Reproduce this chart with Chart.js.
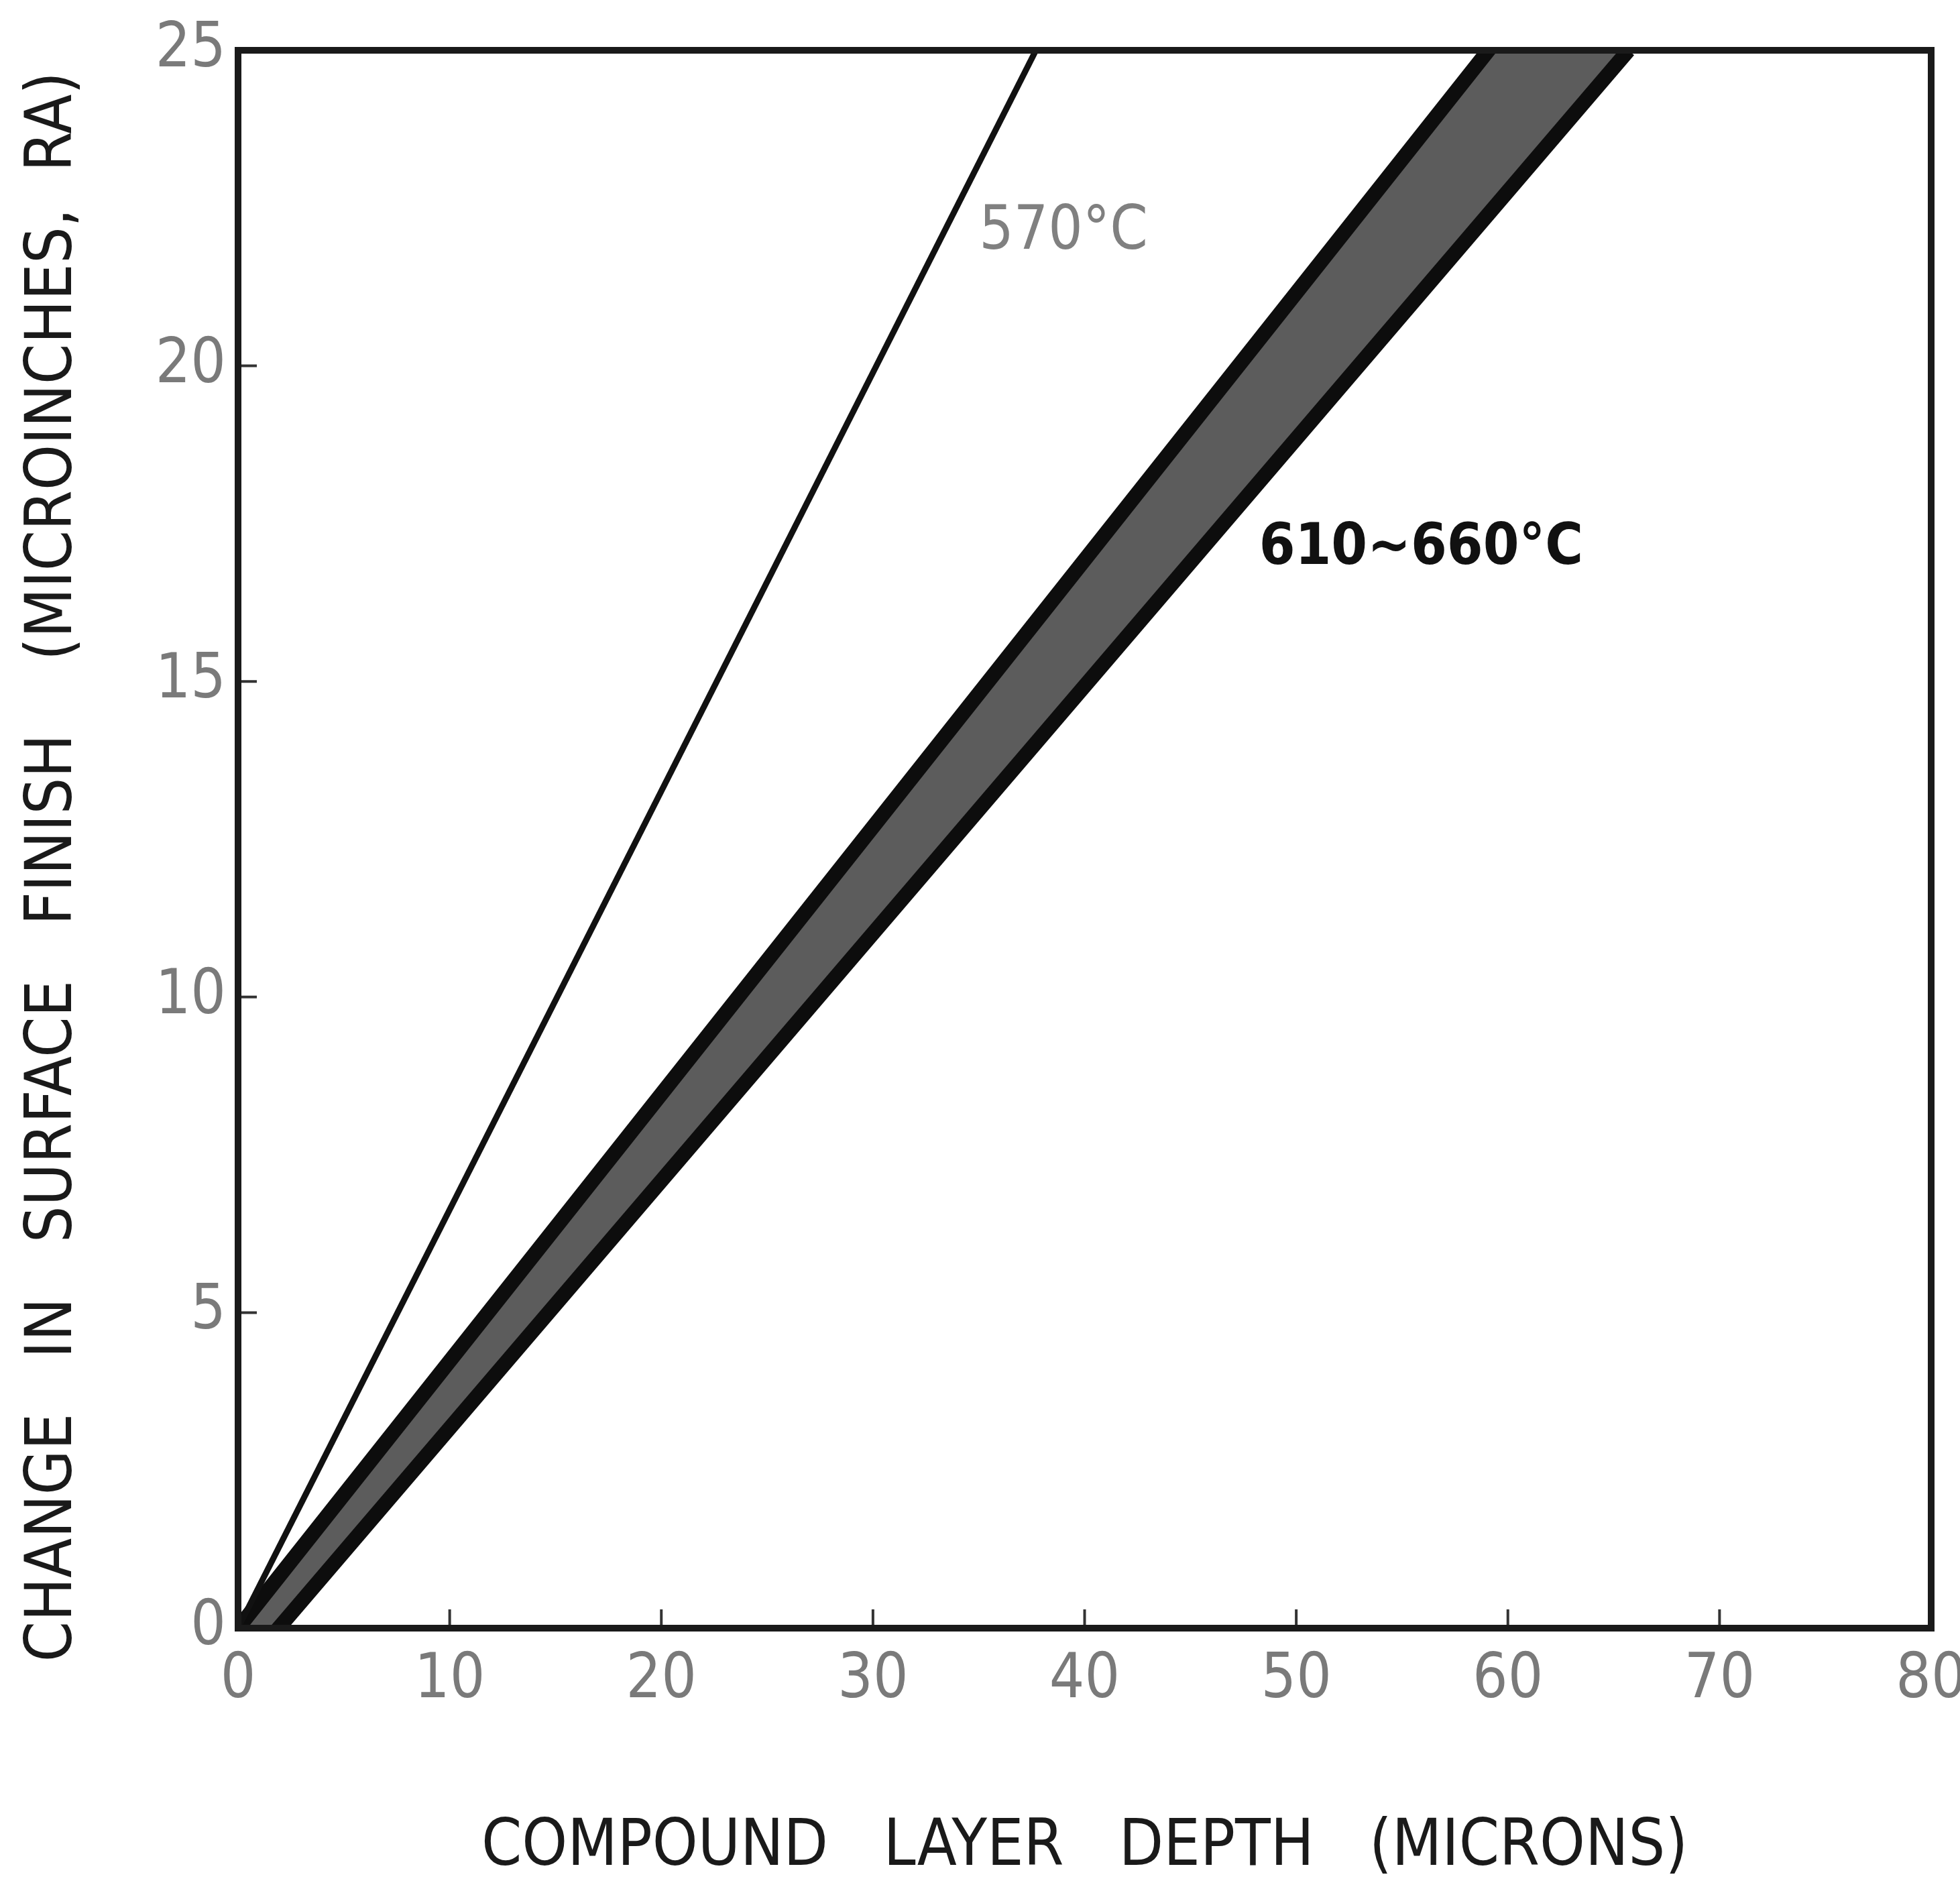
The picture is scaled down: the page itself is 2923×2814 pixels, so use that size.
<!DOCTYPE html>
<html>
<head>
<meta charset="utf-8">
<script src="https://cdn.jsdelivr.net/npm/chart.js@4.4.1/dist/chart.umd.min.js"></script>
<style>
  html, body { margin: 0; padding: 0; background: #fff; }
  #wrap { width: 2923px; height: 2814px; }
</style>
</head>
<body>
<div id="wrap"><canvas id="chart" width="2923" height="2814"></canvas></div>
<script>
// ---- data ----
const xTicks = [0, 10, 20, 30, 40, 50, 60, 70, 80];
const yTicks = [0, 5, 10, 15, 20, 25];

// 570 C line
const line570X = [0, 37.7];
const line570Y = [0, 25];

// 610~660 C band edges, both running past the frame over the same x span
// so the filler can shade between them (the frame clips them)
const bandUpperX = [0, 65.7];
const bandUpperY = [0, 27.8];
const bandLowerX = [0, 65.7];
const bandLowerY = [-0.75, 25];

// curve labels: [text, x, y]
const label570 = ['570°C', 39.0, 22.1];
const labelBand = ['610~660°C', 55.9, 17.1];

const xTitle = 'COMPOUND   LAYER   DEPTH   (MICRONS)';
const yTitle = 'CHANGE   IN   SURFACE   FINISH    (MICROINCHES,  RA)   ';

const COND = '"DejaVu Sans Condensed", "Liberation Sans Narrow", "DejaVu Sans", sans-serif';

const toPoints = (xs, ys) => xs.map((x, i) => ({ x, y: ys[i] }));

// frame, inward tick marks and curve labels
const framePlugin = {
  id: 'frame',
  afterDatasetsDraw(chart) {
    const { ctx, chartArea: a, scales: { x, y } } = chart;
    ctx.save();

    // inward ticks
    ctx.strokeStyle = '#333';
    ctx.lineWidth = 4;
    ctx.beginPath();
    xTicks.slice(1, -1).forEach(v => {
      const px = x.getPixelForValue(v);
      ctx.moveTo(px, a.bottom);
      ctx.lineTo(px, a.bottom - 28);
    });
    yTicks.slice(1, -1).forEach(v => {
      const py = y.getPixelForValue(v);
      ctx.moveTo(a.left, py);
      ctx.lineTo(a.left + 28, py);
    });
    ctx.stroke();

    // box
    ctx.strokeStyle = '#1a1a1a';
    ctx.lineWidth = 10;
    ctx.strokeRect(a.left, a.top, a.right - a.left, a.bottom - a.top);

    // labels
    ctx.textAlign = 'center';
    ctx.textBaseline = 'middle';
    ctx.fillStyle = '#808080';
    ctx.font = '400 90px ' + COND;
    ctx.fillText(label570[0], x.getPixelForValue(label570[1]), y.getPixelForValue(label570[2]));
    ctx.fillStyle = '#111';
    ctx.font = '700 86px ' + COND;
    ctx.fillText(labelBand[0], x.getPixelForValue(labelBand[1]), y.getPixelForValue(labelBand[2]));

    ctx.restore();
  }
};

new Chart(document.getElementById('chart').getContext('2d'), {
  type: 'scatter',
  data: {
    datasets: [
      {
        label: '570°C',
        data: toPoints(line570X, line570Y),
        showLine: true,
        borderColor: '#111',
        borderWidth: 9,
        pointRadius: 0,
        fill: false,
        clip: 0
      },
      {
        label: '610~660°C upper',
        data: toPoints(bandUpperX, bandUpperY),
        showLine: true,
        borderColor: '#0d0d0d',
        borderWidth: 22,
        pointRadius: 0,
        fill: false,
        clip: 0
      },
      {
        label: '610~660°C lower',
        data: toPoints(bandLowerX, bandLowerY),
        showLine: true,
        borderColor: '#0d0d0d',
        borderWidth: 22,
        pointRadius: 0,
        fill: '-1',
        backgroundColor: '#5c5c5c',
        clip: 0
      }
    ]
  },
  options: {
    responsive: false,
    animation: false,
    layout: { padding: { top: 75, right: 0, bottom: 0, left: 0 } },
    plugins: {
      legend: { display: false },
      tooltip: { enabled: false }
    },
    scales: {
      x: {
        type: 'linear',
        min: 0,
        max: 80,
        afterBuildTicks: s => { s.ticks = xTicks.map(v => ({ value: v })); },
        afterFit: s => { s.height = 386; s.paddingRight = 43; },
        grid: { display: false, drawTicks: false },
        border: { display: false },
        ticks: {
          color: '#7a7a7a',
          padding: 24,
          maxRotation: 0,
          font: { family: COND, size: 92 }
        },
        title: {
          display: true,
          text: xTitle,
          color: '#1a1a1a',
          padding: { top: 0, bottom: 0 },
          font: { family: COND, size: 96 }
        }
      },
      y: {
        type: 'linear',
        min: 0,
        max: 25,
        afterBuildTicks: s => { s.ticks = yTicks.map(v => ({ value: v })); },
        afterFit: s => { s.width = 355; },
        grid: { display: false, drawTicks: false },
        border: { display: false },
        ticks: {
          color: '#7a7a7a',
          padding: 18,
          font: { family: COND, size: 92 }
        },
        title: {
          display: true,
          text: yTitle,
          color: '#1a1a1a',
          padding: { top: 23, bottom: 0 },
          font: { family: COND, size: 96 }
        }
      }
    }
  },
  plugins: [framePlugin]
});
</script>
</body>
</html>
